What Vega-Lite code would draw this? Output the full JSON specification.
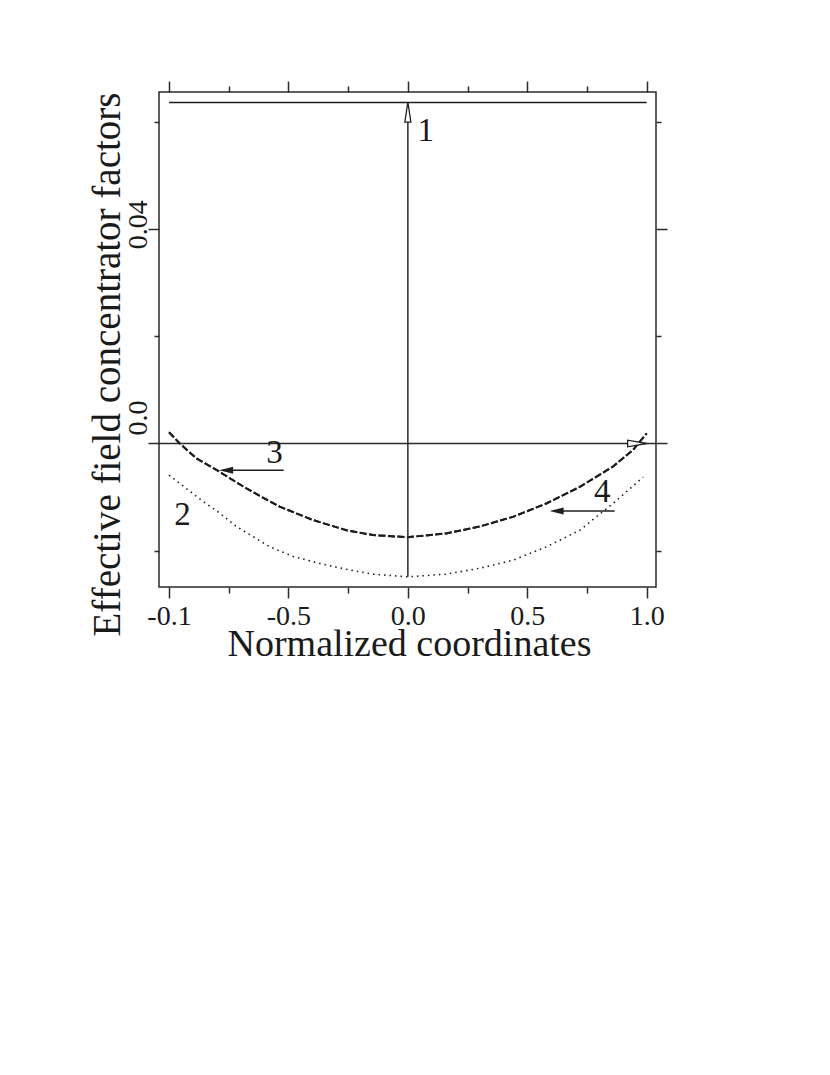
{
  "$schema": "https://vega.github.io/schema/vega-lite/v6.json",
  "width": 497,
  "height": 495,
  "autosize": {"type": "none"},
  "padding": {"left": 159, "top": 92, "right": 174, "bottom": 488},
  "background": "white",
  "config": {
    "view": {"stroke": "#2a2a2a", "strokeWidth": 1.5},
    "axis": {
      "domain": false,
      "grid": false,
      "tickColor": "#2a2a2a",
      "tickWidth": 1.5,
      "labelFont": "Liberation Serif",
      "titleFont": "Liberation Serif",
      "labelColor": "#1a1a1a",
      "titleColor": "#1a1a1a",
      "titleFontWeight": "normal"
    }
  },
  "datasets": {
    "curves": [
      {"series": "1", "x": -1.0, "y": 0.0637},
      {"series": "1", "x": 1.0, "y": 0.0637},
      {"series": "2", "x": -1.0, "y": -0.0059},
      {"series": "2", "x": -0.864, "y": -0.0106},
      {"series": "2", "x": -0.788, "y": -0.0130},
      {"series": "2", "x": -0.718, "y": -0.0155},
      {"series": "2", "x": -0.648, "y": -0.0174},
      {"series": "2", "x": -0.578, "y": -0.0193},
      {"series": "2", "x": -0.480, "y": -0.0211},
      {"series": "2", "x": -0.369, "y": -0.0224},
      {"series": "2", "x": -0.257, "y": -0.0235},
      {"series": "2", "x": -0.146, "y": -0.0244},
      {"series": "2", "x": 0.0, "y": -0.0249},
      {"series": "2", "x": 0.161, "y": -0.0244},
      {"series": "2", "x": 0.301, "y": -0.0233},
      {"series": "2", "x": 0.440, "y": -0.0218},
      {"series": "2", "x": 0.580, "y": -0.0193},
      {"series": "2", "x": 0.720, "y": -0.0162},
      {"series": "2", "x": 0.859, "y": -0.0112},
      {"series": "2", "x": 0.985, "y": -0.0063},
      {"series": "3", "x": -1.0, "y": 0.0021},
      {"series": "3", "x": -0.955, "y": 0.0000},
      {"series": "3", "x": -0.885, "y": -0.0028},
      {"series": "3", "x": -0.788, "y": -0.0053},
      {"series": "3", "x": -0.676, "y": -0.0084},
      {"series": "3", "x": -0.537, "y": -0.0118},
      {"series": "3", "x": -0.397, "y": -0.0143},
      {"series": "3", "x": -0.257, "y": -0.0162},
      {"series": "3", "x": -0.146, "y": -0.0171},
      {"series": "3", "x": 0.0, "y": -0.0175},
      {"series": "3", "x": 0.161, "y": -0.0168},
      {"series": "3", "x": 0.301, "y": -0.0155},
      {"series": "3", "x": 0.440, "y": -0.0137},
      {"series": "3", "x": 0.580, "y": -0.0112},
      {"series": "3", "x": 0.720, "y": -0.0081},
      {"series": "3", "x": 0.859, "y": -0.0043},
      {"series": "3", "x": 0.943, "y": -0.0012},
      {"series": "3", "x": 1.0, "y": 0.0019},
      {"series": "4", "x": -1.0, "y": 0.0021},
      {"series": "4", "x": -0.955, "y": 0.0000},
      {"series": "4", "x": -0.885, "y": -0.0028},
      {"series": "4", "x": -0.788, "y": -0.0053},
      {"series": "4", "x": -0.676, "y": -0.0084},
      {"series": "4", "x": -0.537, "y": -0.0118},
      {"series": "4", "x": -0.397, "y": -0.0143},
      {"series": "4", "x": -0.257, "y": -0.0162},
      {"series": "4", "x": -0.146, "y": -0.0171},
      {"series": "4", "x": 0.0, "y": -0.0175},
      {"series": "4", "x": 0.161, "y": -0.0168},
      {"series": "4", "x": 0.301, "y": -0.0155},
      {"series": "4", "x": 0.440, "y": -0.0137},
      {"series": "4", "x": 0.580, "y": -0.0112},
      {"series": "4", "x": 0.720, "y": -0.0081},
      {"series": "4", "x": 0.859, "y": -0.0043},
      {"series": "4", "x": 0.943, "y": -0.0012},
      {"series": "4", "x": 1.0, "y": 0.0019}
    ],
    "zeroline": [{"x": -1.042, "x2": 1.039, "y": 0}],
    "shaft1": [{"x": 0, "y": -0.0249, "y2": 0.0600}],
    "head1": [{"x": 0, "y": 0.0619}],
    "shafts": [
      {"label": "3", "x": -0.52, "x2": -0.765, "y": -0.0050},
      {"label": "4", "x": 0.866, "x2": 0.62, "y": -0.0126}
    ],
    "heads": [
      {"label": "3", "x": -0.761, "y": -0.0050},
      {"label": "4", "x": 0.623, "y": -0.0126}
    ],
    "headzero": [{"x": 0.960, "y": 0}],
    "labels": [
      {"label": "1", "x": 0.075, "y": 0.0565},
      {"label": "2", "x": -0.9435, "y": -0.0152},
      {"label": "3", "x": -0.558, "y": -0.0036},
      {"label": "4", "x": 0.814, "y": -0.0109}
    ]
  },
  "layer": [
    {
      "layer": [
        {
          "data": {"name": "zeroline"},
          "mark": {"type": "rule", "color": "#2a2a2a", "strokeWidth": 1.5},
          "encoding": {
            "x": {"field": "x", "type": "quantitative", "scale": {"domain": [-1.042, 1.039], "nice": false, "zero": false}},
            "x2": {"field": "x2"},
            "y": {"field": "y", "type": "quantitative", "scale": {"domain": [-0.0268, 0.06564], "nice": false, "zero": false}}
          }
        },
        {
          "data": {"name": "curves"},
          "transform": [{"filter": "datum.series == '1'"}],
          "mark": {"type": "line", "color": "#1e1e1e", "strokeWidth": 1.5},
          "encoding": {
            "x": {
              "field": "x", "type": "quantitative",
              "scale": {"domain": [-1.042, 1.039], "nice": false, "zero": false},
              "axis": {
                "orient": "bottom",
                "values": [-1, -0.75, -0.5, -0.25, 0, 0.25, 0.5, 0.75, 1],
                "tickSize": {"condition": {"test": "datum.value == -1 || datum.value == -0.5 || datum.value == 0 || datum.value == 0.5 || datum.value == 1", "value": 11}, "value": 6},
                "labelExpr": "datum.value == -1 ? '-0.1' : datum.value == -0.5 ? '-0.5' : datum.value == 0 ? '0.0' : datum.value == 0.5 ? '0.5' : datum.value == 1 ? '1.0' : ''",
                "labelFontSize": 28,
                "labelPadding": 4,
                "labelFlush": false,
                "labelOverlap": false,
                "title": "Normalized coordinates",
                "titleFontSize": 38,
                "titleX": 250,
                "titleY": 68,
                "titleAlign": "center",
                "titleBaseline": "alphabetic"
              }
            },
            "y": {
              "field": "y", "type": "quantitative",
              "scale": {"domain": [-0.0268, 0.06564], "nice": false, "zero": false},
              "axis": {
                "orient": "left",
                "values": [-0.02, 0, 0.02, 0.04, 0.06],
                "tickSize": {"condition": {"test": "datum.value == 0 || datum.value == 0.04", "value": 11}, "value": 5},
                "labelExpr": "datum.value == 0 ? '0.0' : datum.value == 0.04 ? '0.04' : ''",
                "labelAngle": -90,
                "labelAlign": "center",
                "labelBaseline": "alphabetic",
                "labelOffset": {"condition": {"test": "datum.value == 0", "value": -26}, "value": -5},
                "labelPadding": 2,
                "labelFontSize": 28,
                "labelFlush": false,
                "labelOverlap": false,
                "title": "Effective field concentrator factors",
                "titleFontSize": 39,
                "titleAngle": -90,
                "titleX": -40,
                "titleY": 272,
                "titleAlign": "center",
                "titleBaseline": "alphabetic"
              }
            }
          }
        },
        {
          "data": {"name": "curves"},
          "transform": [{"filter": "datum.series == '2'"}],
          "mark": {"type": "line", "color": "#1e1e1e", "strokeWidth": 1.6, "strokeDash": [1.5, 4]},
          "encoding": {
            "x": {"field": "x", "type": "quantitative", "scale": {"domain": [-1.042, 1.039], "nice": false, "zero": false}},
            "y": {"field": "y", "type": "quantitative", "scale": {"domain": [-0.0268, 0.06564], "nice": false, "zero": false}}
          }
        },
        {
          "data": {"name": "curves"},
          "transform": [{"filter": "datum.series == '3'"}],
          "mark": {"type": "line", "color": "#1e1e1e", "strokeWidth": 2, "strokeDash": [7, 2.5]},
          "encoding": {
            "x": {"field": "x", "type": "quantitative", "scale": {"domain": [-1.042, 1.039], "nice": false, "zero": false}},
            "y": {"field": "y", "type": "quantitative", "scale": {"domain": [-0.0268, 0.06564], "nice": false, "zero": false}}
          }
        },
        {
          "data": {"name": "curves"},
          "transform": [{"filter": "datum.series == '4'"}],
          "mark": {"type": "line", "color": "#1e1e1e", "strokeWidth": 2, "strokeDash": [7, 2.5]},
          "encoding": {
            "x": {"field": "x", "type": "quantitative", "scale": {"domain": [-1.042, 1.039], "nice": false, "zero": false}},
            "y": {"field": "y", "type": "quantitative", "scale": {"domain": [-0.0268, 0.06564], "nice": false, "zero": false}}
          }
        },
        {
          "data": {"name": "shaft1"},
          "mark": {"type": "rule", "color": "#2a2a2a", "strokeWidth": 1.5},
          "encoding": {
            "x": {"field": "x", "type": "quantitative", "scale": {"domain": [-1.042, 1.039], "nice": false, "zero": false}},
            "y": {"field": "y", "type": "quantitative", "scale": {"domain": [-0.0268, 0.06564], "nice": false, "zero": false}},
            "y2": {"field": "y2"}
          }
        },
        {
          "data": {"name": "head1"},
          "mark": {"type": "point", "shape": "M0,-1L0.3,1L-0.3,1Z", "size": 400, "filled": true, "fill": "white", "stroke": "#1e1e1e", "strokeWidth": 1.3, "opacity": 1},
          "encoding": {
            "x": {"field": "x", "type": "quantitative", "scale": {"domain": [-1.042, 1.039], "nice": false, "zero": false}},
            "y": {"field": "y", "type": "quantitative", "scale": {"domain": [-0.0268, 0.06564], "nice": false, "zero": false}}
          }
        },
        {
          "data": {"name": "shafts"},
          "mark": {"type": "rule", "color": "#1e1e1e", "strokeWidth": 1.6},
          "encoding": {
            "x": {"field": "x", "type": "quantitative", "scale": {"domain": [-1.042, 1.039], "nice": false, "zero": false}},
            "x2": {"field": "x2"},
            "y": {"field": "y", "type": "quantitative", "scale": {"domain": [-0.0268, 0.06564], "nice": false, "zero": false}}
          }
        },
        {
          "data": {"name": "heads"},
          "mark": {"type": "point", "shape": "M-1,0L1,-0.5L1,0.5Z", "size": 196, "filled": true, "color": "#1e1e1e", "opacity": 1},
          "encoding": {
            "x": {"field": "x", "type": "quantitative", "scale": {"domain": [-1.042, 1.039], "nice": false, "zero": false}},
            "y": {"field": "y", "type": "quantitative", "scale": {"domain": [-0.0268, 0.06564], "nice": false, "zero": false}}
          }
        },
        {
          "data": {"name": "labels"},
          "mark": {"type": "text", "font": "Liberation Serif", "fontSize": 33, "color": "#1a1a1a", "align": "center", "baseline": "alphabetic"},
          "encoding": {
            "x": {"field": "x", "type": "quantitative", "scale": {"domain": [-1.042, 1.039], "nice": false, "zero": false}},
            "y": {"field": "y", "type": "quantitative", "scale": {"domain": [-0.0268, 0.06564], "nice": false, "zero": false}},
            "text": {"field": "label"}
          }
        }
      ]
    },
    {
      "data": {"name": "headzero"},
      "mark": {"type": "point", "shape": "M1,0L-1,-0.35L-1,0.35Z", "size": 361, "filled": true, "fill": "white", "stroke": "#1e1e1e", "strokeWidth": 1.3, "opacity": 1},
      "encoding": {
        "x": {
          "field": "x", "type": "quantitative",
          "scale": {"domain": [-1.042, 1.039], "nice": false, "zero": false},
          "axis": {
            "orient": "top",
            "values": [-1, -0.75, -0.5, -0.25, 0, 0.25, 0.5, 0.75, 1],
            "tickSize": {"condition": {"test": "datum.value == -1 || datum.value == -0.5 || datum.value == 0 || datum.value == 0.5 || datum.value == 1", "value": 11}, "value": 6},
            "labels": false,
            "title": null
          }
        },
        "y": {
          "field": "y", "type": "quantitative",
          "scale": {"domain": [-0.0268, 0.06564], "nice": false, "zero": false},
          "axis": {
            "orient": "right",
            "values": [-0.02, 0, 0.02, 0.04, 0.06],
            "tickSize": {"condition": {"test": "datum.value == 0 || datum.value == 0.04", "value": 11}, "value": 5},
            "labels": false,
            "title": null
          }
        }
      }
    }
  ],
  "resolve": {"axis": {"x": "independent", "y": "independent"}}
}
